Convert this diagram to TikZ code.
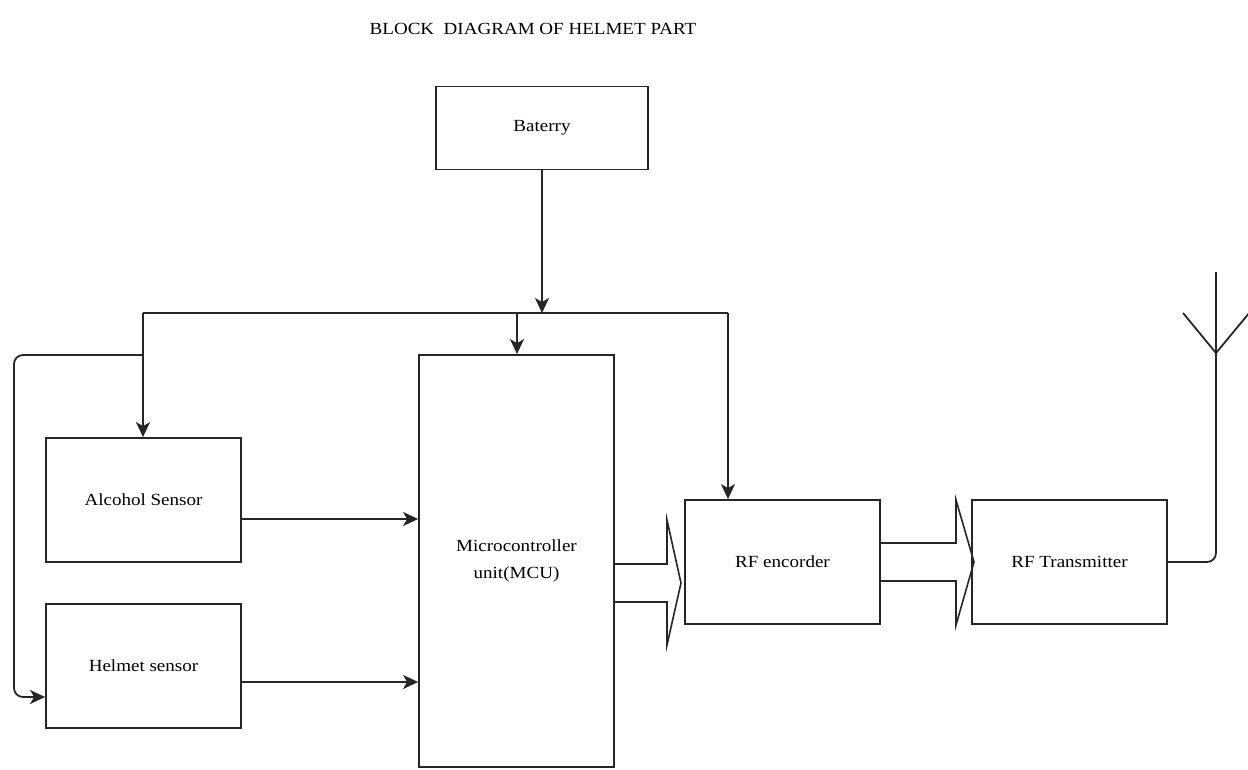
\documentclass[tikz,border=0pt]{standalone}
\usepackage{fontspec}
\setmainfont[FakeStretch=1.12]{Liberation Serif}
\usetikzlibrary{arrows.meta}
\begin{document}
\begin{tikzpicture}[x=1pt,y=-1pt,
  line width=1.8pt, draw=black!85,
  blk/.style={draw, rectangle, inner sep=0pt, align=center, font=\fontsize{17}{27}\selectfont},
  arr/.style={-{Stealth[length=15pt,width=14pt,inset=4pt]}},
  lbl/.style={font=\fontsize{17}{22}\selectfont}]
\useasboundingbox (0,0) rectangle (1248,769);
\node[lbl] (title) at (533,29) {BLOCK\ \ DIAGRAM OF HELMET PART};
\node[blk, minimum width=212pt, minimum height=83pt] (bat) at (542,128) {Baterry};
\node[blk, minimum width=195pt, minimum height=412pt] (mcu) at (516.5,561) {Microcontroller\\unit(MCU)};
\node[blk, minimum width=195pt, minimum height=124pt] (alc) at (143.5,500) {Alcohol Sensor};
\node[blk, minimum width=195pt, minimum height=124pt] (hel) at (143.5,666) {Helmet sensor};
\node[blk, minimum width=195pt, minimum height=124pt] (enc) at (782.5,562) {RF encorder};
\node[blk, minimum width=195pt, minimum height=124pt] (tx) at (1069.5,562) {RF Transmitter};
% power bus
\coordinate (busL) at (143,313);
\coordinate (busM) at (517,313);
\coordinate (busR) at (728,313);
\coordinate (loopS) at (143,355);
\draw[arr] (bat.south) -- (bat.south |- busL);
\draw (busL) -- (busR);
\draw[arr] (busR) -- (busR |- enc.north);
\draw[arr] (busM) -- (busM |- mcu.north);
\draw[arr] (busL) -- (busL |- alc.north);
\draw[arr, rounded corners=9pt] (loopS) -- (14,355) -- (14,697) -- (hel.west |- 0,697);
% sensors to MCU
\draw[arr] (alc.east |- 0,519) -- (mcu.west |- 0,519);
\draw[arr] (hel.east |- 0,682) -- (mcu.west |- 0,682);
% wide arrows
\draw[line width=1.6pt] (mcu.east |- 0,564) -- (667,564) -- (667,520) -- (681,583) -- (667,645) -- (667,602) -- (mcu.east |- 0,602);
\draw[line width=1.6pt] (enc.east |- 0,543) -- (956,543) -- (956,500) -- (974,562) -- (956,625) -- (956,581) -- (enc.east |- 0,581);
% antenna
\coordinate (ant) at (1216,353);
\draw[rounded corners=9pt] (tx.east) -- (1216,562) -- (1216,272);
\draw (1183,313) -- (ant) -- (1250,312);
\end{tikzpicture}
\end{document}
